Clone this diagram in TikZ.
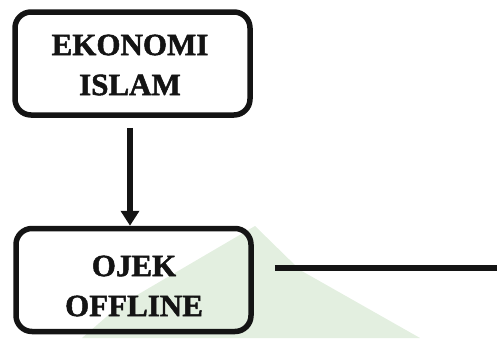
\documentclass[tikz,border=0pt]{standalone}
\usepackage{fontspec}
\setmainfont{Liberation Serif}
\newfontfamily\heavyfont{Liberation Serif Bold}[FakeBold=1.6]
\usetikzlibrary{arrows.meta}
\definecolor{wm}{HTML}{E3EFE0}
\definecolor{ink}{HTML}{141414}
\begin{document}
\begin{tikzpicture}[x=1pt,y=-1pt,
  box/.style={draw=ink,line width=5.5pt,rounded corners=16pt,minimum width=235pt,minimum height=103pt,inner sep=0pt},
  lbl/.style={font=\heavyfont\fontsize{31}{40}\selectfont,align=center,text=ink,inner sep=0pt},
  conn/.style={draw=ink,line width=5.5pt}]
\useasboundingbox (0,0) rectangle (497,338);
\fill[wm] (255,226) -- (300,270) -- (420,338) -- (82,338) -- (120,305) -- cycle;
\node[box] (b1) at (132.5,63.5) {};
\node[box] (b2) at (133.5,280) {};
\node[lbl] (t1) at (130,65) {EKONOMI\\ISLAM};
\node[lbl] (t2) at (134,286) {OJEK\\OFFLINE};
\coordinate (lineend) at (497,268);
\draw[conn,-{Triangle[width=18pt,length=15pt]}] ([xshift=-2.5pt,yshift=-10pt]b1.south) -- ([xshift=-3.5pt]b2.north);
\draw[conn] ([xshift=21pt,yshift=12pt]b2.east) -- (lineend);
\end{tikzpicture}
\end{document}
